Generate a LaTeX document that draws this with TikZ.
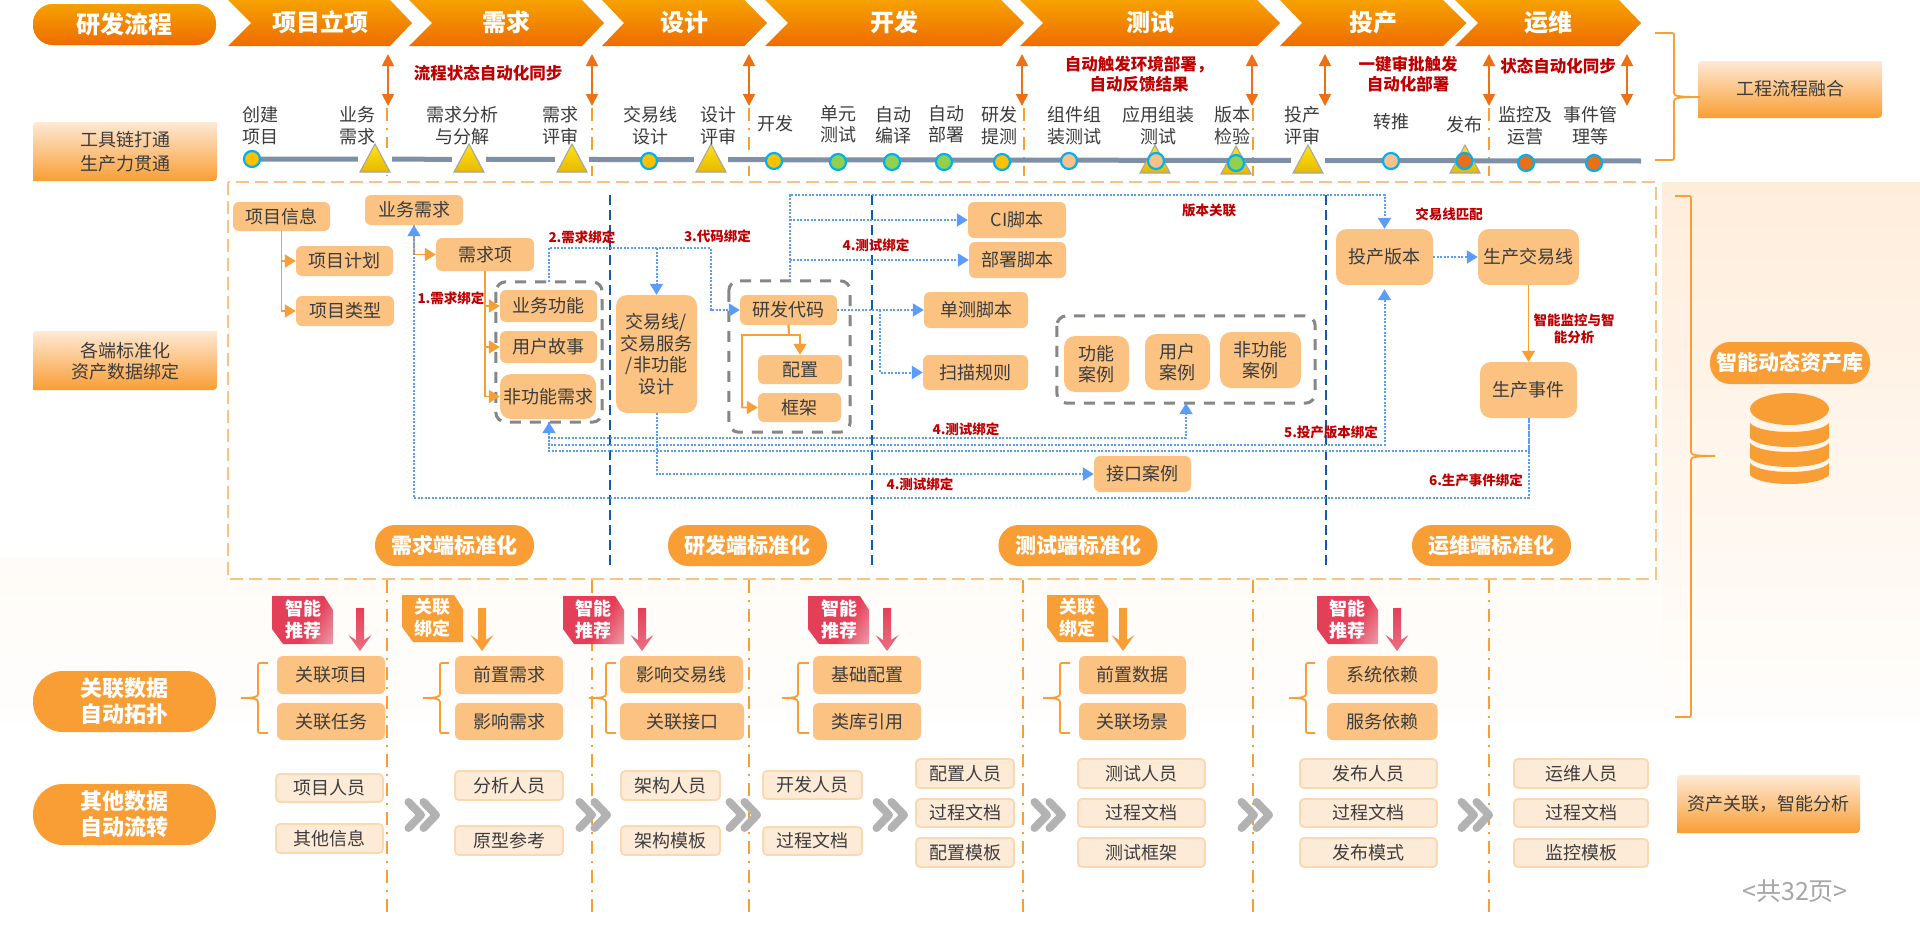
\documentclass[tikz,border=0pt]{standalone}
\usepackage{fontspec}
\setmainfont{Noto Sans CJK SC}
\usetikzlibrary{arrows.meta,calc}
\definecolor{boxc}{HTML}{FBC281}
\definecolor{pale}{HTML}{FEEBD7}
\definecolor{paleb}{HTML}{FCD8B0}
\definecolor{orng}{HTML}{F99E34}
\definecolor{dorng}{HTML}{EE7014}
\definecolor{redt}{HTML}{C00000}
\definecolor{txt}{HTML}{3C3C3C}
\definecolor{blu}{HTML}{5B9CF8}
\definecolor{dblu}{HTML}{0F5CAC}
\definecolor{gry}{HTML}{868686}
\definecolor{dash1}{HTML}{FBC381}
\definecolor{rose}{HTML}{E43F58}
\definecolor{rosel}{HTML}{EDA0AC}
\definecolor{F1}{HTML}{F6A100}
\definecolor{F2}{HTML}{EE6C00}
\definecolor{cy}{HTML}{00B0F0}
\definecolor{cya}{HTML}{FFC000}
\definecolor{cyb}{HTML}{92D050}
\definecolor{cyc}{HTML}{F8C18A}
\definecolor{cyd}{HTML}{E96F19}
\definecolor{ytop}{HTML}{FFE414}
\definecolor{ybot}{HTML}{E6B800}
\definecolor{gtop}{HTML}{FEE9D5}
\definecolor{gmid}{HTML}{FDD9B6}
\definecolor{tline}{HTML}{7F8FA6}
\pgfdeclarehorizontalshading{rosesh}{100bp}{color(0bp)=(rose); color(58bp)=(rose); color(85bp)=(rosel); color(100bp)=(rosel)}
\tikzset{
 box/.style={fill=boxc,rounded corners=6pt,inner sep=0pt,align=center,text=txt,font=\fontsize{18}{21.5}\selectfont},
 bigbox/.style={box,rounded corners=11pt},
 item/.style={fill=pale,draw=paleb,line width=1.8pt,rounded corners=4pt,inner sep=0pt,align=center,text=txt,font=\fontsize{18}{21.5}\selectfont},
 lab/.style={inner sep=0pt,align=center,text=txt,font=\fontsize{18}{21.5}\selectfont},
 redb/.style={inner sep=0pt,align=center,text=redt,font=\fontsize{16.5}{20}\selectfont\bfseries},
 reds/.style={inner sep=0pt,align=center,text=redt,font=\fontsize{13.5}{17}\selectfont\bfseries},
 wht/.style={inner sep=0pt,align=center,text=white,font=\fontsize{22}{26}\selectfont\bfseries},
 pill/.style={fill=orng,rounded corners=20pt,inner sep=0pt,align=center,text=white,font=\fontsize{21}{26}\selectfont\bfseries},
 tagt/.style={inner sep=0pt,align=center,text=white,font=\fontsize{18}{22}\selectfont\bfseries},
 gbox/.style={inner sep=0pt},
 gline/.style={draw=gry,line width=3pt,rounded corners=10pt,dash pattern=on 11pt off 9pt},
 bline/.style={draw=blu,line width=2pt,dash pattern=on 2pt off 1.5pt},
 barr/.style={bline,-{Triangle[width=13pt,length=11pt,fill=blu,color=blu]}},
 barrb/.style={bline,{Triangle[width=13pt,length=11pt,fill=blu,color=blu]}-},
 oarr/.style={draw=orng,line width=1.8pt,-{Triangle[width=13pt,length=11pt]}},
 dbl/.style={draw=dorng,line width=1.8pt,{Triangle[width=12pt,length=12pt]}-{Triangle[width=12pt,length=12pt]}},
 dd/.style={draw=orng,line width=1.8pt,dash pattern=on 13pt off 7pt on 2pt off 7pt},
 sep/.style={draw=dblu,line width=2pt,dash pattern=on 10pt off 5pt},
 brc/.style={draw=orng,line width=1.8pt},
 circ/.style={circle,draw=cy,line width=2.2pt,minimum size=16pt,inner sep=0pt},
 rosefill/.style={shading=rosesh,shading angle=-30},
 orgfill/.style={fill=orng},
 rosearr/.style={top color=rose,bottom color=rose!75!white},
}
% name x1 y1 x2 y2 text
\newcommand\bx[7][box]{\node[#1,minimum width={(#5-#3)*1pt},minimum height={(#6-#4)*1pt}] (#2) at ({(#3+#5)/2},{(#4+#6)/2}) {#7};}
\newcommand\chv[7]{\path[top color=F1,bottom color=F2] (#1,0) -- (#3,0) -- (#4,23) -- (#3,46) -- (#1,46) -- (#2,23) -- cycle; \node[wht,font=\fontsize{24}{28}\selectfont\bfseries] (#6) at (#5,22) {#7};}
\newcommand\triB[2]{\path[top color=ytop,bottom color=ybot,draw=gray!70,line width=1.1pt] (#1,#2-15) -- (#1+15,#2+13) -- (#1-15,#2+13) -- cycle;}
\newcommand\tri[2]{\path[fill=white] (#1-17,#2-11) rectangle (#1+17,#2+16);\triB{#1}{#2}}
\newcommand\grbox[4]{\path[top color=gtop,middle color=gmid,bottom color=orng] (#1,#4) -- (#1,#2+8) .. controls (#1,#2) and (#1,#2) .. (#1+8,#2) -- (#3,#2) -- (#3,#4-8) .. controls (#3,#4) and (#3,#4) .. (#3-8,#4) -- cycle;}
\newcommand\brcx[7]{\draw[brc] (#3,#4) -- ({#2+#7},#4) .. controls (#2,#4) and (#2,#4) .. (#2,{#4+4}) -- (#2,{#5-4}) .. controls (#2,#5-1) and ({#2-#7},#5) .. (#1,#5) .. controls ({#2-#7},#5) and (#2,#5+1) .. (#2,{#5+4}) -- (#2,{#6-4}) .. controls (#2,#6) and (#2,#6) .. ({#2+#7},#6) -- (#3,#6);}
\newcommand\tagshape[5]{\path[#5] (#1,#2) -- (#3-9,#2) -- (#3,#2+14) -- (#3,#4) -- (#1+11,#4) -- (#1,#4-15) -- cycle;}
\newcommand\downa[2]{\path[#2] (#1-4,608) -- (#1+4,608) -- (#1+4,640) -- (#1+11.5,635) -- (#1,651) -- (#1-11.5,635) -- (#1-4,640) -- cycle;}
\newcommand\chev[1]{\draw[draw=gray!60,line width=8pt,line cap=round,line join=round] (#1-13.5,802) -- (#1-1,815) -- (#1-13.5,828) (#1+1.5,802) -- (#1+14,815) -- (#1+1.5,828);}
\begin{document}
\begin{tikzpicture}[x=1pt,y=-1pt]
\useasboundingbox (0,0) rectangle (1920,926);
\fill[white] (0,0) rectangle (1920,926);
% backgrounds
\path[top color=orange!14!white,bottom color=orange!1!white,draw=none] (1662,182) rectangle (1920,723);
\path[top color=orange!3!white,bottom color=orange!1!white,draw=none] (0,557) rectangle (1662,723);
\fill[white] (228,182) rectangle (1656,579);
% header
\node[pill,font=\fontsize{24}{28}\selectfont\bfseries,top color=F1,bottom color=F2,minimum width=183pt,minimum height=41pt] (hdr) at (124.5,24.5) {研发流程};
\chv{228}{251}{390}{412}{320}{c1}{项目立项}
\chv{409}{432}{582}{604}{506}{c2}{需求}
\chv{602}{624}{744.5}{767}{684}{c3}{设计}
\chv{765}{788}{1001}{1024}{894}{c4}{开发}
\chv{1020}{1043}{1257}{1280}{1150}{c5}{测试}
\chv{1280}{1302}{1443}{1466.5}{1373}{c6}{投产}
\chv{1455}{1478}{1619}{1641}{1548}{c7}{运维}
% phase dash-dot verticals
\foreach \x in {387,592,749,1024,1253,1489}{\draw[dd] (\x,108) -- (\x,176);}
\foreach \x in {387,592,749,1023,1253,1489}{\draw[dd] (\x,580) -- (\x,917);}
% double arrows
\foreach \x/\n in {388/a,592/b,749/c,1022/d,1252/e,1325/f,1489/g,1627/h}{
  \coordinate (u\n) at (\x,54); \coordinate (v\n) at (\x,106); \draw[dbl] (u\n) -- (v\n);}
% red top labels
\node[redb] (r1) at (488,73) {流程状态自动化同步};
\node[redb] (r2) at (1139,74) {自动触发环境部署，\\自动反馈结果};
\node[redb] (r3) at (1408,74) {一键审批触发\\自动化部署};
\node[redb] (r4) at (1558,66) {状态自动化同步};
% left labels
\grbox{33}{122}{217}{181}\node[lab] (l1) at (125,151.5) {工具链打通\\[2pt]生产力贯通};
\grbox{33}{331}{217}{390}\node[lab] (l2) at (125,361) {各端标准化\\资产数据绑定};
\grbox{1698}{61}{1882}{118}\node[lab] (l3) at (1790,89) {工程流程融合};
\grbox{1677}{775}{1860}{833}\node[lab] (l4) at (1768,804) {资产关联，智能分析};
% timeline
\draw[line width=5pt,color=tline] (252,159) -- (1641,161);
\tri{375}{159}\tri{469}{159}\tri{572}{159}\tri{711}{159}\tri{1308}{160}
\triB{1155}{160}\triB{1236}{161}\triB{1465}{160}
% circles
\node[circ,fill=cya] (t1) at (252,159) {};
\node[circ,fill=cya] (t2) at (649,161) {};
\node[circ,fill=cya] (t3) at (774,161) {};
\node[circ,fill=cyb] (t4) at (838,162) {};
\node[circ,fill=cyb] (t5) at (892,162) {};
\node[circ,fill=cyb] (t6) at (944,162) {};
\node[circ,fill=cya] (t7) at (1002,162) {};
\node[circ,fill=cyc] (t8) at (1069,161) {};
\node[circ,fill=cyc] (t9) at (1156,161) {};
\node[circ,fill=cyb] (t10) at (1236,163) {};
\node[circ,fill=cyc] (t11) at (1391,161) {};
\node[circ,fill=cyd] (t12) at (1464.5,161) {};
\node[circ,fill=cyd] (t13) at (1526,163) {};
\node[circ,fill=cyd] (t14) at (1594,163) {};
% timeline labels
\node[lab] (p1) at (260,125.5) {创建\\项目};
\node[lab] (p2) at (357.5,125.5) {业务\\需求};
\node[lab] (p3) at (462,125.5) {需求分析\\与分解};
\node[lab] (p4) at (560,125.5) {需求\\评审};
\node[lab] (p5) at (650,125.5) {交易线\\设计};
\node[lab] (p6) at (718,125.5) {设计\\评审};
\node[lab] (p7) at (775,124) {开发};
\node[lab] (p8) at (838,124) {单元\\测试};
\node[lab] (p9) at (893,125) {自动\\编译};
\node[lab] (p10) at (946,124) {自动\\部署};
\node[lab] (p11) at (999,125.5) {研发\\提测};
\node[lab] (p12) at (1074,125.5) {组件组\\装测试};
\node[lab] (p13) at (1158,125.5) {应用组装\\测试};
\node[lab] (p14) at (1232,125.5) {版本\\检验};
\node[lab] (p15) at (1302,125.5) {投产\\评审};
\node[lab] (p16) at (1391,122) {转推};
\node[lab] (p17) at (1464,125) {发布};
\node[lab] (p18) at (1525,125.5) {监控及\\运营};
\node[lab] (p19) at (1590,125.5) {事件管\\理等};
% outer dashed frame and separators
\draw[draw=dash1,line width=2pt,dash pattern=on 13pt off 6pt] (228,182) rectangle (1656,579);
\foreach \x in {610,872,1326}{\draw[sep] (\x,195) -- (\x,567);}
% braces
\brcx{1700}{1674}{1655}{33}{97}{160}{-4}
\brcx{1715}{1691}{1675}{196}{456}{717}{-4}
\node[pill,minimum width=160pt,minimum height=42pt] (lib) at (1790,363) {智能动态资产库};
% database
\fill[orng] (1789.5,409) ellipse [x radius=39.5,y radius=16];
\foreach \a/\b in {423/438,443/458,463/475}{
 \fill[orng] (1750,\a) .. controls (1760,\a+12) and (1819,\a+12) .. (1829,\a) -- (1829,\b) .. controls (1819,\b+12) and (1760,\b+12) .. (1750,\b) -- cycle;}
% dashed groups
\node[gbox,minimum width=106pt,minimum height=140pt] (g1) at (549,352) {};
\node[gbox,minimum width=121pt,minimum height=151pt] (g2) at (789.5,356.5) {};
\node[gbox,minimum width=258pt,minimum height=87pt] (g3) at (1186,359.5) {};
\draw[gline] (g1.north west) rectangle (g1.south east);
\draw[gline] (g2.north west) rectangle (g2.south east);
\draw[gline] (g3.north west) rectangle (g3.south east);
% boxes
\bx{pinfo}{233}{202}{330}{231}{项目信息}
\bx{biz}{365}{195}{463}{225}{业务需求}
\bx{pplan}{296}{246}{393}{276}{项目计划}
\bx{ptype}{296}{296}{394}{326}{项目类型}
\bx{ritem}{436}{238}{534}{271}{需求项}
\bx{bf}{500}{290}{597}{322}{业务功能}
\bx{us}{500}{331}{597}{363}{用户故事}
\bx[bigbox]{nf}{500}{374}{596}{419}{非功能需求}
\bx[bigbox]{tl}{616}{295}{697}{413}{交易线/\\交易服务\\/非功能\\设计}
\bx{code}{740}{295}{837}{325}{研发代码}
\bx{cfg}{758}{355}{842}{384}{配置}
\bx{fw}{758}{393}{841}{422}{框架}
\bx{ci}{968}{202}{1066}{238}{CI脚本}
\bx{dep}{969}{242}{1066}{278}{部署脚本}
\bx{ut}{924}{292}{1028}{328}{单测脚本}
\bx{scan}{923}{355}{1028}{390}{扫描规则}
\bx[bigbox]{fc}{1064}{336}{1129}{392}{功能\\案例}
\bx[bigbox]{uc}{1145}{334}{1210}{390}{用户\\案例}
\bx[bigbox]{nc}{1220}{332}{1301}{388}{非功能\\案例}
\bx{iface}{1094}{456}{1191}{492}{接口案例}
\bx[bigbox]{rel}{1336}{229}{1433}{285}{投产版本}
\bx[bigbox]{prod}{1478}{229}{1579}{285}{生产交易线}
\bx[bigbox]{ev}{1480}{362}{1577}{418}{生产事件}
% orange connectors
\draw[oarr] (pinfo.south) |- (pplan.west);
\draw[oarr] (pinfo.south) |- (ptype.west);
\draw[oarr] (biz.south) |- (ritem.west);
\draw[oarr] (ritem.south) |- (bf.west);
\draw[oarr] (ritem.south) |- (us.west);
\draw[oarr] (ritem.south) |- (nf.west);
\coordinate (o1) at (789,335); \coordinate (o2) at (742,370);
\draw[oarr] (code.south) -- (o1) -| (cfg.north);
\draw[oarr] (code.south) -- (o1) -| (o2) |- (fw.west);
\draw[oarr] (prod.south) -- (ev.north);
% blue connectors
\coordinate (b1) at (710.6,248);
\draw[barr] (g1.north) |- (b1) |- (code.west);
\coordinate (b2) at (656.5,248);
\draw[barr] (b2) -- (tl.north);
\coordinate (b3) at (1384.5,195);
\draw[barr] (g2.north) |- (b3) -- (rel.north);
\draw[barr] (g2.north |- ci.west) -- (ci.west);
\draw[barr] (g2.north |- dep.west) -- (dep.west);
\draw[barr] (code.east) -- (ut.west);
\coordinate (b4) at (880,310);
\draw[barr] (b4) |- (scan.west);
\draw[barr] (rel.east) -- (prod.west);
\coordinate (c1b) at (800,438); \coordinate (c2b) at (800,445); \coordinate (c3b) at (800,451); \coordinate (c4b) at (800,498);
\draw[bline,{Triangle[width=13pt,length=11pt,fill=blu,color=blu]}-{Triangle[width=13pt,length=11pt,fill=blu,color=blu]}] (g1.south) |- (c1b) -| (g3.south);
\draw[barr,shorten >=4pt] (g1.south) |- (c2b) -| (rel.south);
\draw[bline] (g1.south) |- (c3b) -| (ev.south);
\draw[barrb] (biz.south) |- (c4b) -| (ev.south);
\draw[barr] (tl.south) |- (iface.west);
% red small labels
\node[reds] (s1) at (451,298) {1.需求绑定};
\node[reds] (s2) at (582,237) {2.需求绑定};
\node[reds] (s3) at (717.5,236) {3.代码绑定};
\node[reds] (s4) at (876,245) {4.测试绑定};
\node[reds] (s5) at (1209,210) {版本关联};
\node[reds] (s6) at (1449,214) {交易线匹配};
\node[reds] (s7) at (1574,328.5) {智能监控与智\\能分析};
\node[reds] (s8) at (966,429) {4.测试绑定};
\node[reds] (s9) at (1331,432) {5.投产版本绑定};
\node[reds] (s10) at (920,484) {4.测试绑定};
\node[reds] (s11) at (1476,480) {6.生产事件绑定};
% domain pills
\node[pill,minimum width=159pt,minimum height=41pt] (d1) at (454.5,545.5) {需求端标准化};
\node[pill,minimum width=159pt,minimum height=41pt] (d2) at (747.5,545.5) {研发端标准化};
\node[pill,minimum width=159pt,minimum height=41pt] (d3) at (1078,545.5) {测试端标准化};
\node[pill,minimum width=159pt,minimum height=41pt] (d4) at (1491.5,545.5) {运维端标准化};
% lower pills
\node[pill,rounded corners=30pt,font=\fontsize{22}{26}\selectfont\bfseries,minimum width=183pt,minimum height=61pt] (q1) at (124.5,701.5) {关联数据\\自动拓扑};
\node[pill,rounded corners=30pt,font=\fontsize{22}{26}\selectfont\bfseries,minimum width=183pt,minimum height=61pt] (q2) at (124.5,814.5) {其他数据\\自动流转};
% tags and arrows
\tagshape{272}{596}{333}{644}{rosefill}\node[tagt] (k1) at (303,620) {智能\\推荐};
\tagshape{402}{595}{463}{642}{orgfill}\node[tagt] (k2) at (432,618) {关联\\绑定};
\tagshape{563}{596}{624}{644}{rosefill}\node[tagt] (k3) at (593.5,620) {智能\\推荐};
\tagshape{808}{596}{869}{644}{rosefill}\node[tagt] (k4) at (839,620) {智能\\推荐};
\tagshape{1047}{595}{1108}{642}{orgfill}\node[tagt] (k5) at (1077,618) {关联\\绑定};
\tagshape{1317}{596}{1378}{644}{rosefill}\node[tagt] (k6) at (1347.5,620) {智能\\推荐};
\downa{360}{rosearr}\downa{482}{fill=orng}\downa{642}{rosearr}\downa{887}{rosearr}\downa{1123}{fill=orng}\downa{1397}{rosearr}
% small braces
\brcx{241}{258}{268}{663}{698}{733}{4}
\brcx{423}{440}{449}{663}{698}{733}{4}
\brcx{589}{606}{616}{663}{698}{733}{4}
\brcx{782}{798}{809}{663}{698}{733}{4}
\brcx{1043}{1060}{1070}{663}{698}{733}{4}
\brcx{1289}{1306}{1315}{663}{698}{733}{4}
% association boxes
\bx{a1}{277}{656}{385}{694}{关联项目}
\bx{a2}{277}{703}{385}{740}{关联任务}
\bx{a3}{455}{656}{563}{694}{前置需求}
\bx{a4}{455}{703}{563}{740}{影响需求}
\bx{a5}{620}{656}{743}{693}{影响交易线}
\bx{a6}{620}{703}{744}{740}{关联接口}
\bx{a7}{813}{656}{921}{694}{基础配置}
\bx{a8}{813}{703}{921}{740}{类库引用}
\bx{a9}{1079}{656}{1186}{694}{前置数据}
\bx{a10}{1079}{703}{1186}{740}{关联场景}
\bx{a11}{1327}{656}{1437.5}{694}{系统依赖}
\bx{a12}{1327}{703}{1437.5}{740}{服务依赖}
% other data items
\bx[item]{i1}{276}{774}{383}{802}{项目人员}
\bx[item]{i2}{276}{824}{383}{853}{其他信息}
\bx[item]{i3}{455}{771}{563}{800}{分析人员}
\bx[item]{i4}{455}{826}{563}{855}{原型参考}
\bx[item]{i5}{621}{771}{720}{800}{架构人员}
\bx[item]{i6}{621}{826}{720}{855}{架构模板}
\bx[item]{i7}{763}{771}{862}{799}{开发人员}
\bx[item]{i8}{763}{827}{862}{855}{过程文档}
\bx[item]{i9}{916}{759}{1014}{788}{配置人员}
\bx[item]{i10}{916}{799}{1014}{827}{过程文档}
\bx[item]{i11}{916}{838}{1014}{867}{配置模板}
\bx[item]{i12}{1078}{759}{1205}{788}{测试人员}
\bx[item]{i13}{1078}{799}{1205}{827}{过程文档}
\bx[item]{i14}{1078}{838}{1205}{867}{测试框架}
\bx[item]{i15}{1300}{759}{1437}{788}{发布人员}
\bx[item]{i16}{1300}{799}{1437}{827}{过程文档}
\bx[item]{i17}{1300}{838}{1437}{867}{发布模式}
\bx[item]{i18}{1514}{759}{1648}{788}{运维人员}
\bx[item]{i19}{1514}{799}{1648}{827}{过程文档}
\bx[item]{i20}{1514}{839}{1648}{867}{监控模板}
\chev{422}\chev{593}\chev{743}\chev{890}\chev{1048}\chev{1255}\chev{1475}
\node[inner sep=0pt,text=gray!70,font=\fontsize{25}{29}\selectfont] (pg) at (1795,891) {<共32页>};
\end{tikzpicture}
\end{document}
